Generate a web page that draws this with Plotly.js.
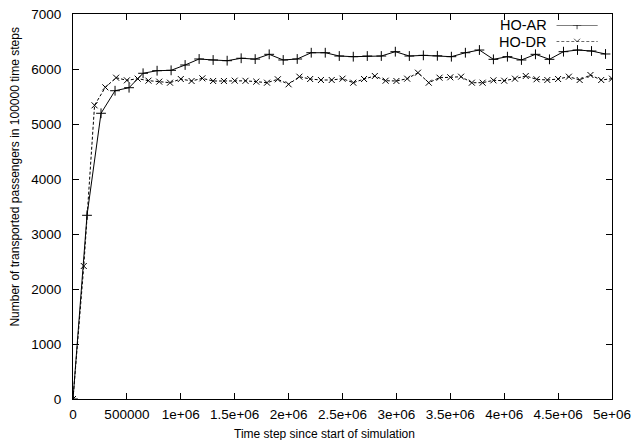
<!DOCTYPE html>
<html><head><meta charset="utf-8">
<script src="https://cdn.plot.ly/plotly-3.0.1.min.js"></script>
<style>html,body{margin:0;padding:0;background:#fff}#c{width:634px;height:440px}</style>
</head><body><div id="c"></div>
<script>
const arSteps = [0,130000,260000,390000,520000,650000,780000,910000,1040000,1170000,1300000,1430000,1560000,1690000,1820000,1950000,2080000,2210000,2340000,2470000,2600000,2730000,2860000,2990000,3120000,3250000,3380000,3510000,3640000,3770000,3900000,4030000,4160000,4290000,4420000,4550000,4680000,4810000,4940000];
const arValues = [0,3340,5195,5605,5660,5922,5969,5976,6073,6182,6164,6151,6195,6180,6267,6164,6182,6296,6296,6236,6224,6236,6236,6315,6236,6248,6240,6224,6296,6345,6176,6224,6164,6267,6176,6315,6345,6327,6273];
const drSteps = [0,100000,200000,300000,400000,500000,600000,700000,800000,900000,1000000,1100000,1200000,1300000,1400000,1500000,1600000,1700000,1800000,1900000,2000000,2100000,2200000,2300000,2400000,2500000,2600000,2700000,2800000,2900000,3000000,3100000,3200000,3300000,3400000,3500000,3600000,3700000,3800000,3900000,4000000,4100000,4200000,4300000,4400000,4500000,4600000,4700000,4800000,4900000,5000000];
const drValues = [0,2418,5340,5667,5842,5794,5824,5788,5770,5751,5818,5782,5830,5782,5782,5788,5785,5770,5751,5813,5722,5860,5818,5800,5800,5824,5751,5818,5873,5787,5782,5824,5933,5751,5842,5849,5860,5751,5751,5794,5787,5824,5873,5813,5800,5818,5860,5800,5891,5800,5824];
const xTickVals = [0,500000,1000000,1500000,2000000,2500000,3000000,3500000,4000000,4500000,5000000];
const xTickText = ['0','500000','1e+06','1.5e+06','2e+06','2.5e+06','3e+06','3.5e+06','4e+06','4.5e+06','5e+06'];
const yTickVals = [0,1000,2000,3000,4000,5000,6000,7000];
const seriesNames = ['HO-AR','HO-DR'];
const xTitle = 'Time step since start of simulation';
const yTitle = 'Number of transported passengers in 100000 time steps';

const fam = 'Liberation Sans, Arial, sans-serif';
const traces = [
  {x:arSteps, y:arValues, name:seriesNames[0], mode:'lines+markers',
   line:{color:'#000', width:1}, marker:{symbol:'cross-thin-open', size:7, color:'#000', line:{width:1, color:'#000'}}},
  {x:drSteps, y:drValues, name:seriesNames[1], mode:'lines+markers',
   line:{color:'#000', width:1, dash:'3px,2px'}, marker:{symbol:'x-thin-open', size:6, color:'#000', line:{width:1, color:'#000'}}},
  {x:[0.0,0.5,1.0], y:[0,0,0], xaxis:'x2', yaxis:'y2', mode:'lines+markers', showlegend:false, hoverinfo:'skip',
   line:{color:'#000', width:1}, marker:{symbol:['circle-open','cross-thin-open','circle-open'], size:[0,6,0], color:'#000', line:{width:1,color:'#000'}}},
  {x:[0.0,0.5,1.0], y:[1,1,1], xaxis:'x2', yaxis:'y2', mode:'lines+markers', showlegend:false, hoverinfo:'skip',
   line:{color:'#000', width:1, dash:'3px,2px'}, marker:{symbol:['circle-open','x-thin-open','circle-open'], size:[0,6,0], color:'#000', line:{width:1,color:'#000'}}}
];
const layout = {
  width:634, height:440,
  margin:{l:72.5, r:21.5, t:14, b:41},
  paper_bgcolor:'#fff', plot_bgcolor:'#fff',
  font:{family:fam, size:13.5, color:'#000'}, showlegend:false,
  xaxis:{range:[0,5000000], tickvals:xTickVals, ticktext:xTickText, ticks:'inside', ticklen:6, tickcolor:'#000',
    showline:true, linecolor:'#000', linewidth:1, mirror:'allticks', showgrid:false, zeroline:false,
    tickfont:{family:fam, size:13.5}, ticklabelstandoff:3},
  yaxis:{range:[0,7000], tickvals:yTickVals, ticks:'inside', ticklen:6, tickcolor:'#000',
    showline:true, linecolor:'#000', linewidth:1, mirror:'allticks', showgrid:false, zeroline:false,
    tickfont:{family:fam, size:13.5}, ticklabelstandoff:8},
  xaxis2:{domain:[0.8967,0.9737], range:[0,1], visible:false, anchor:'y2', fixedrange:true},
  yaxis2:{domain:[0.928,0.9714], range:[1,0], visible:false, anchor:'x2', fixedrange:true},
  annotations:[
    {xref:'paper', yref:'paper', x:0.883, y:0.9714, xanchor:'right', yanchor:'middle', text:seriesNames[0], showarrow:false, font:{family:fam, size:14.5}},
    {xref:'paper', yref:'paper', x:0.883, y:0.928, xanchor:'right', yanchor:'middle', text:seriesNames[1], showarrow:false, font:{family:fam, size:14.5}},
    {xref:'paper', yref:'paper', x:(324-72.5)/540, y:-(434-399)/385, xanchor:'center', yanchor:'middle', text:xTitle, showarrow:false, font:{family:fam, size:12}},
    {xref:'paper', yref:'paper', x:-(72.5-14)/540, y:1-(177-14)/385, xanchor:'center', yanchor:'middle', textangle:-90, text:yTitle, showarrow:false, font:{family:fam, size:12}}
  ]
};
Plotly.newPlot('c', traces, layout, {displayModeBar:false, staticPlot:true});
</script></body></html>
